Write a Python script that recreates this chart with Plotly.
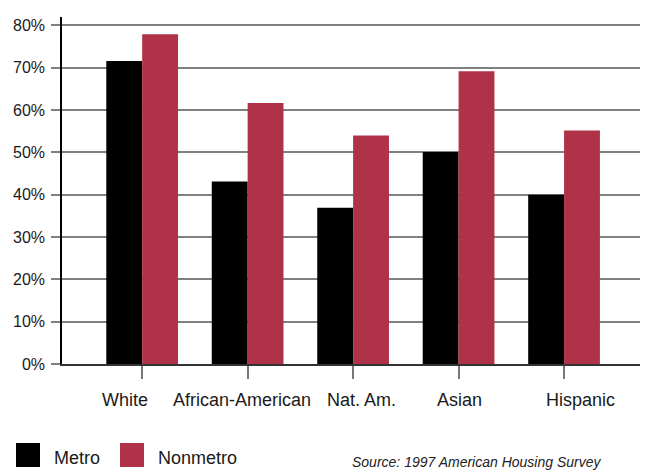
import plotly.graph_objects as go

categories = ["White", "African-American", "Nat. Am.", "Asian", "Hispanic"]
metro = [71.6, 43.1, 36.9, 50.1, 40.0]
nonmetro = [77.9, 61.7, 54.0, 69.2, 55.2]
y_ticks = [0, 10, 20, 30, 40, 50, 60, 70, 80]
y_ticklabels = [f"{v}%" for v in y_ticks]

# horizontal nudges of the category labels (pixels), as in the original layout
label_shift = [-17, -6, 8, 1, 16]

FONT = "Liberation Sans, Arial, sans-serif"
BLACK = "#000000"
RED = "#b03248"
TEXT = "#1a1a1a"

L, R, T, B = 62, 7, 17, 106
W, H = 647, 470
PW, PH = W - L - R, H - T - B
base = H - B  # pixel row of the x axis


def px_x(x):
    return (x - L) / PW


def px_y(y):
    return (base - y) / PH


fig = go.Figure()
xs = list(range(len(categories)))
fig.add_trace(go.Bar(x=xs, y=metro, name="Metro",
                     marker=dict(color=BLACK, line=dict(width=0))))
fig.add_trace(go.Bar(x=xs, y=nonmetro, name="Nonmetro",
                     marker=dict(color=RED, line=dict(width=0))))

fig.update_layout(
    width=W, height=H,
    margin=dict(l=L, r=R, t=T, b=B),
    paper_bgcolor="white", plot_bgcolor="white",
    barmode="group", bargap=0.32, bargroupgap=0,
    showlegend=False,
    font=dict(family=FONT, size=17, color=TEXT),
    xaxis=dict(range=[-0.76, 4.72], tickmode="array", tickvals=xs,
               showticklabels=False,
               ticks="outside", ticklen=13, tickwidth=1.5, tickcolor="#777",
               showline=True, linecolor="#333", linewidth=2,
               showgrid=False, zeroline=False, automargin=False),
    yaxis=dict(range=[0, 82], tickmode="array", tickvals=y_ticks, ticktext=y_ticklabels,
               ticks="outside", ticklen=9, tickwidth=2, tickcolor="#808080",
               showline=True, linecolor="#000", linewidth=1.5,
               showgrid=True, gridcolor="#808080", gridwidth=2,
               zeroline=False, automargin=False, ticklabelstandoff=3,
               tickfont=dict(family=FONT, size=16, color=TEXT)),
)

# category labels
for i, (cat, dx) in enumerate(zip(categories, label_shift)):
    fig.add_annotation(xref="x", yref="paper", x=i, y=px_y(400), xshift=dx,
                       text=cat, showarrow=False, xanchor="center", yanchor="middle",
                       font=dict(family=FONT, size=18, color=TEXT))

# legend drawn manually
legend_items = [("Metro", BLACK, 16), ("Nonmetro", RED, 120)]
for label, color, x0 in legend_items:
    fig.add_shape(type="rect", xref="paper", yref="paper",
                  x0=px_x(x0), x1=px_x(x0 + 24),
                  y0=px_y(467), y1=px_y(443),
                  fillcolor=color, line=dict(width=0))
    fig.add_annotation(xref="paper", yref="paper",
                       x=px_x(x0 + 36), y=px_y(458),
                       text=label, showarrow=False, xanchor="left", yanchor="middle",
                       font=dict(family=FONT, size=18, color=TEXT))

fig.add_annotation(xref="paper", yref="paper", x=px_x(604), y=px_y(462),
                   text="<i>Source: 1997 American Housing Survey</i>", showarrow=False,
                   xanchor="right", yanchor="middle",
                   font=dict(family=FONT, size=14, color="#222"))

fig.write_html("out.html", config={"displayModeBar": False},
               post_script="document.body.style.margin='0';document.body.style.overflow='hidden';")
